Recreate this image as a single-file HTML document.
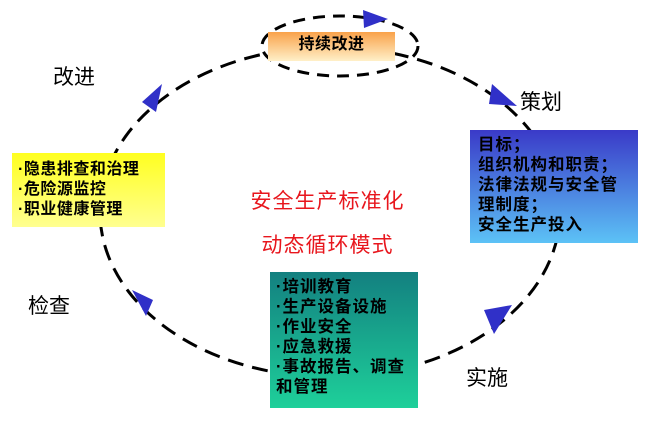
<!DOCTYPE html>
<html><head><meta charset="utf-8"><style>
body{margin:0;width:650px;height:424px;background:#fff;position:relative;overflow:hidden;font-family:"Liberation Sans","Noto Sans CJK SC",sans-serif}
.t{position:absolute;font-size:21px;color:#000}
.box{position:absolute;font-weight:bold;font-size:16px;letter-spacing:0.5px;line-height:20px;color:#000}
</style></head><body>
<svg width="650" height="424" style="position:absolute;left:0;top:0">
<ellipse cx="330" cy="212" rx="230" ry="165" fill="none" stroke="#000" stroke-width="3" stroke-dasharray="16,9"/>
<ellipse cx="340" cy="46" rx="78" ry="30" fill="none" stroke="#000" stroke-width="3" stroke-dasharray="12,8"/>
<polygon points="363,10 388,19 364,28" fill="#3030c8"/>
<polygon points="492,84 517,106 489,104" fill="#3030c8"/>
<polygon points="512,305 494,334 484,310" fill="#3030c8"/>
<polygon points="132,290 153,300 146,316" fill="#3030c8"/>
<polygon points="162,84 156,112 142,102" fill="#3030c8"/>
<defs>
<linearGradient id="o" x1="0" y1="0" x2="0" y2="1"><stop offset="0" stop-color="#f9a24a"/><stop offset="1" stop-color="#fff0c8"/></linearGradient>
<linearGradient id="b" x1="0" y1="0" x2="0" y2="1"><stop offset="0" stop-color="#3a3ac8"/><stop offset="1" stop-color="#5cc2f6"/></linearGradient>
<linearGradient id="g" x1="0" y1="0" x2="0" y2="1"><stop offset="0" stop-color="#138080"/><stop offset="1" stop-color="#1ed09a"/></linearGradient>
<linearGradient id="y" x1="0" y1="0" x2="0" y2="1"><stop offset="0" stop-color="#ffff20"/><stop offset="1" stop-color="#ffff90"/></linearGradient>
</defs>
<rect x="268" y="32" width="127" height="29" fill="url(#o)"/>
<rect x="12" y="153" width="153" height="74" fill="url(#y)"/>
<rect x="470" y="130" width="168" height="113" fill="url(#b)"/>
<rect x="270" y="272" width="148" height="136" fill="url(#g)"/>
</svg>
<div class="box" style="left:268px;top:35px;width:127px;text-align:center;font-size:16px">持续改进</div>
<div class="t" style="left:53px;top:61px">改进</div>
<div class="t" style="left:520px;top:86px">策划</div>
<div class="t" style="left:28px;top:290px">检查</div>
<div class="t" style="left:466px;top:362px">实施</div>
<div class="box" style="left:18px;top:160px">·隐患排查和治理<br>·危险源监控<br>·职业健康管理</div>
<div class="box" style="left:478px;top:135px;width:150px;font-size:16.5px;letter-spacing:1px">目标；<br>组织机构和职责；<br>法律法规与安全管理制度；<br>安全生产投入</div>
<div class="box" style="left:276px;top:277px;width:138px;font-size:16.5px;letter-spacing:1px">·培训教育<br>·生产设备设施<br>·作业安全<br>·应急救援<br>·事故报告、调查和管理</div>
<div style="position:absolute;left:235px;top:180px;color:#e8161d;font-size:21px;letter-spacing:1px;line-height:44px;text-align:center;width:185px">安全生产标准化<br>动态循环模式</div>
</body></html>
